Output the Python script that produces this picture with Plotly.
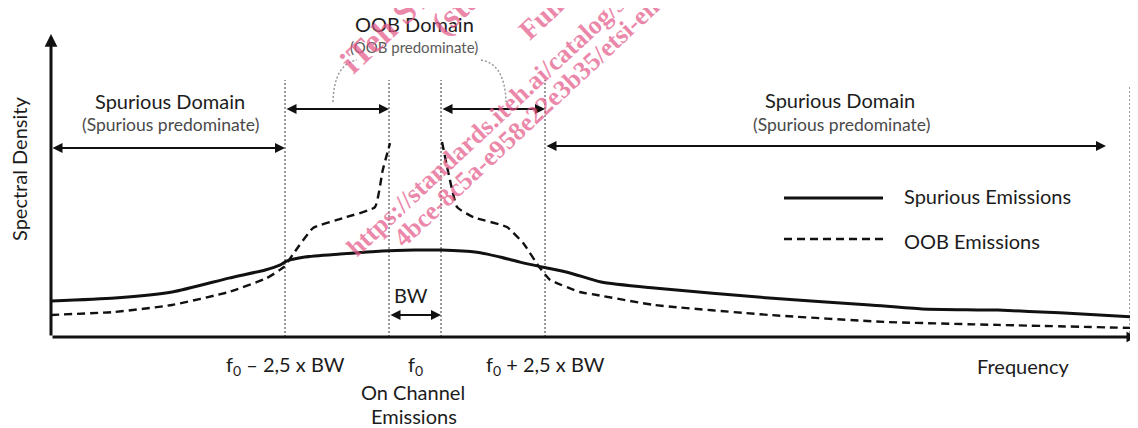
import math
import plotly.graph_objects as go

# ---------------- data ----------------
# frequency in units of BW relative to f0, spectral density in arbitrary units
spur_freq = [-7.0, -5.77, -4.67, -3.58, -2.88, -2.60, -2.46, -2.12, -1.44, -0.63, 0.0, 0.5,
             1.19, 1.63, 2.02, 2.44, 2.98, 3.58, 4.60, 6.81, 8.75, 9.75, 11.21, 12.40, 13.83]
spur_dens = [11.9, 12.9, 14.9, 19.5, 22.2, 23.8, 25.2, 26.5, 27.5, 28.5, 28.8, 28.8,
             28.1, 26.5, 24.8, 23.2, 21.2, 18.2, 16.2, 12.9, 10.6, 9.3, 8.9, 8.0, 6.6]

oob_lo_freq = [-7.0, -5.77, -4.67, -3.58, -2.85, -2.52, -2.33, -1.96, -1.38, -0.77, -0.62, -0.48]
oob_lo_dens = [7.3, 8.3, 10.6, 14.9, 19.5, 23.2, 27.8, 36.1, 39.4, 43.0, 55.3, 64.2]
oob_hi_freq = [0.52, 0.63, 0.81, 1.12, 1.77, 2.08, 2.40, 2.60, 3.17, 3.50, 4.60, 6.81, 9.02, 11.21, 13.79]
oob_hi_dens = [64.6, 55.3, 43.0, 39.7, 36.4, 31.1, 22.9, 18.9, 14.9, 13.9, 10.6, 7.3, 5.0, 4.0, 3.0]

domain_edges = [-2.5, -0.5, 0.5, 2.5]
spurious_end = 13.75
freq_start = -7.0

tick_vals = [-2.5, 0.0, 2.5]
tick_text = ["f<sub>0</sub> – 2,5 x BW", "f<sub>0</sub>", "f<sub>0</sub> + 2,5 x BW"]

series_names = ["Spurious Emissions", "OOB Emissions"]

# ---------------- layout helpers ----------------
PAGE_W, PAGE_H = 1138, 428
OFF = 8                      # page body margin
W, H = PAGE_W - OFF, PAGE_H - OFF
F0_PX, BW_PX = 415.0, 52.0
AXIS_PX, DENS_PX = 337.0, 3.02


def fx(p):   # page pixel column -> frequency units (layout only)
    return (p - F0_PX) / BW_PX


def dy(p):   # page pixel row -> density units (layout only)
    return (AXIS_PX - p) / DENS_PX


def px(x):
    return (x - OFF) / W


def py(y):
    return 1 - (y - OFF) / H


FONT = "Lato"
INK = "#1c1c1c"

fig = go.Figure()

fig.add_trace(go.Scatter(
    x=spur_freq, y=spur_dens, mode="lines", name=series_names[0],
    line=dict(color="#111111", width=3, shape="spline", smoothing=0.6),
    showlegend=False, hoverinfo="skip"))
fig.add_trace(go.Scatter(
    x=oob_lo_freq + [None] + oob_hi_freq, y=oob_lo_dens + [None] + oob_hi_dens,
    mode="lines", name=series_names[1], connectgaps=False,
    line=dict(color="#111111", width=2.4, dash="8px,5px", shape="spline", smoothing=0.4),
    showlegend=False, hoverinfo="skip"))

# dotted domain boundaries
for e in domain_edges:
    fig.add_shape(type="line", x0=e, x1=e, y0=0, y1=dy(80), layer="below",
                  line=dict(color="#7a7a7a", width=1.5, dash="2px,2px"))
fig.add_shape(type="line", x0=spurious_end, x1=spurious_end, y0=0, y1=dy(85), layer="below",
              line=dict(color="#7a7a7a", width=1.5, dash="2px,2px"))


def arrow(x0, y0, x1, y1, both=True, width=2.0, size=1.0):
    fig.add_annotation(x=x1, y=y1, ax=x0, ay=y0, xref="x", yref="y", axref="x", ayref="y",
                       text="", showarrow=True, arrowhead=2, arrowsize=size, arrowwidth=width,
                       arrowcolor="#111111", arrowside="end+start" if both else "end",
                       standoff=0, startstandoff=0)


# axes
arrow(freq_start, 0, freq_start, dy(34), both=False, width=3, size=0.85)
arrow(freq_start, 0, fx(1137), 0, both=False, width=3, size=0.7)

# domain arrows
arrow(freq_start, dy(148), domain_edges[0], dy(148))
arrow(domain_edges[0], dy(109), domain_edges[1], dy(109))
arrow(domain_edges[2], dy(109), domain_edges[3], dy(109))
arrow(domain_edges[3], dy(146), fx(1106), dy(146))
arrow(domain_edges[1], dy(315), domain_edges[2], dy(315))

# gray dotted brackets from OOB label
fig.add_shape(type="path", xref="x", yref="y",
              path=f"M {fx(333)},{dy(102)} Q {fx(334)},{dy(64)} {fx(357)},{dy(60)}",
              line=dict(color="#9a9a9a", width=1.5, dash="2px,2px"))
fig.add_shape(type="path", xref="x", yref="y",
              path=f"M {fx(481)},{dy(60)} Q {fx(505)},{dy(64)} {fx(506)},{dy(102)}",
              line=dict(color="#9a9a9a", width=1.5, dash="2px,2px"))


def text(t, x, y, size=20, color=INK, xanchor="center", angle=0):
    fig.add_annotation(x=px(x), y=py(y), xref="paper", yref="paper", text=t, showarrow=False,
                       xanchor=xanchor, yanchor="middle", textangle=angle,
                       font=dict(family=FONT, size=size, color=color))


text("OOB Domain", 414, 24, 20)
text("(OOB predominate)", 414, 47, 15, "#5a5a5a")
text("Spurious Domain", 170, 101, 20)
text("(Spurious predominate)", 170, 124, 17.5, "#4a4a4a")
text("Spurious Domain", 840, 100, 20)
text("(Spurious predominate)", 841, 124, 17.5, "#4a4a4a")
text("BW", 411, 295, 20)

# frequency tick labels
for v, t in zip(tick_vals, tick_text):
    fig.add_annotation(x=v, y=dy(365), xref="x", yref="y", text=t, showarrow=False,
                       xanchor="center", yanchor="middle",
                       font=dict(family=FONT, size=20, color=INK))
text("On Channel", 413, 392, 20)
text("Emissions", 414, 416, 20)
text("Frequency", 1023, 366, 20)
text("Spectral Density", 19, 169, 20, angle=-90)

# legend (drawn by hand)
fig.add_shape(type="line", xref="paper", yref="paper", x0=px(784), x1=px(883), y0=py(198), y1=py(198),
              line=dict(color="#111111", width=3))
fig.add_shape(type="line", xref="paper", yref="paper", x0=px(784), x1=px(883), y0=py(239), y1=py(239),
              line=dict(color="#111111", width=2.4, dash="8px,5px"))
text(series_names[0], 902, 196, 20, xanchor="left")
text(series_names[1], 902, 241, 20, xanchor="left")

# watermark overlay
WM_ANGLE = 43
wm_lines = [
    ("iTeh STANDARD PREVIEW", 34, 353, 76),
    ("(standards.iteh.ai)", 34, 444, 38),
    ("Full standard:", 28, 529, 42),
    ("https://standards.iteh.ai/catalog/standards/sist/", 26, 356, 259),
    ("4bce-8c5a-e958e22e3b35/etsi-en", 26, 403, 250),
]
th = math.radians(WM_ANGLE)
for t, s, bx, by in wm_lines:
    d = 0.3 * s
    hgt = 1.3 * s
    blx, bly = bx + d * math.sin(th), by + d * math.cos(th)
    fig.add_annotation(x=px(blx - hgt * math.sin(th)), y=py(bly), xref="paper", yref="paper",
                       text=f"<b>{t}</b>", showarrow=False, xanchor="left", yanchor="bottom",
                       textangle=-WM_ANGLE,
                       font=dict(family="Liberation Serif", size=s, color="rgba(228,90,138,0.72)"))

fig.update_layout(
    width=W, height=H, autosize=False,
    margin=dict(l=0, r=0, t=0, b=0),
    paper_bgcolor="white", plot_bgcolor="white",
    xaxis=dict(range=[fx(OFF), fx(PAGE_W)], visible=False, fixedrange=True),
    yaxis=dict(range=[dy(PAGE_H), dy(OFF)], visible=False, fixedrange=True),
    showlegend=False,
)

fig.write_html("out.html")
